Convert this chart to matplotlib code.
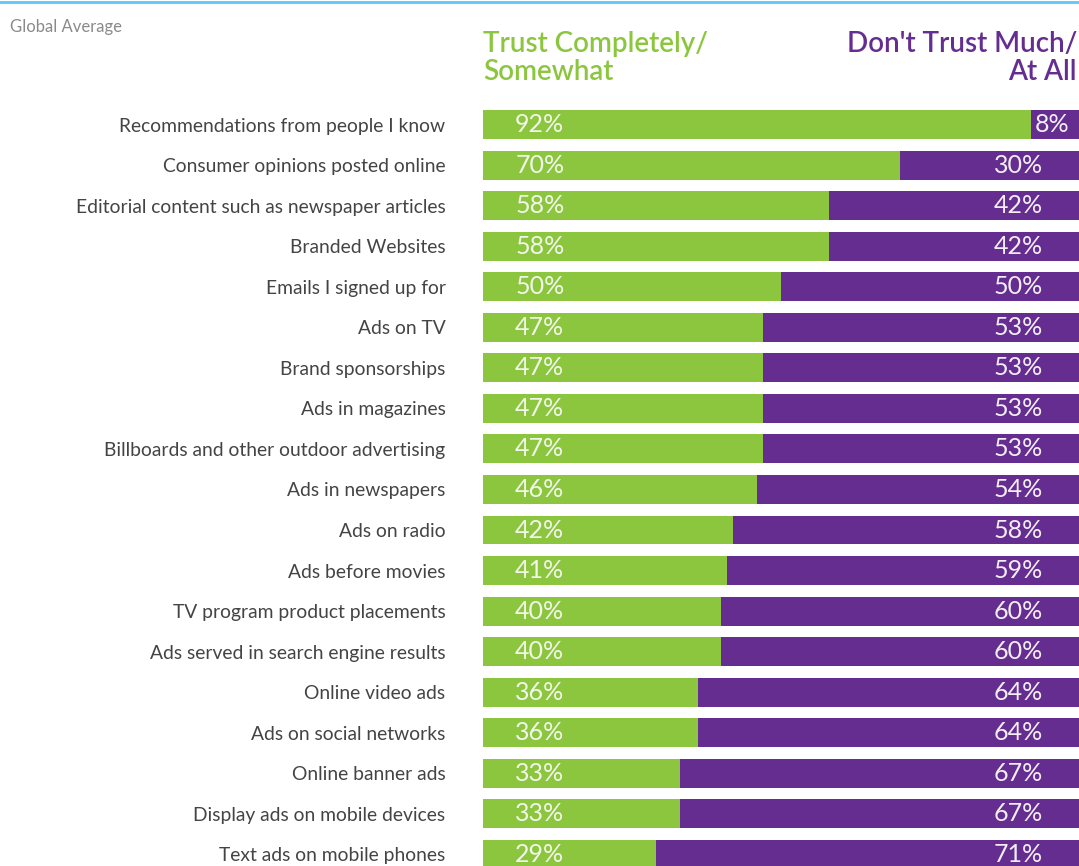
import numpy as np
import matplotlib.pyplot as plt
from matplotlib.lines import Line2D

plt.rcParams['font.family'] = ['Lato', 'DejaVu Sans']

categories = [
    "Recommendations from people I know",
    "Consumer opinions posted online",
    "Editorial content such as newspaper articles",
    "Branded Websites",
    "Emails I signed up for",
    "Ads on TV",
    "Brand sponsorships",
    "Ads in magazines",
    "Billboards and other outdoor advertising",
    "Ads in newspapers",
    "Ads on radio",
    "Ads before movies",
    "TV program product placements",
    "Ads served in search engine results",
    "Online video ads",
    "Ads on social networks",
    "Online banner ads",
    "Display ads on mobile devices",
    "Text ads on mobile phones",
]
trust = [92, 70, 58, 58, 50, 47, 47, 47, 47, 46, 42, 41, 40, 40, 36, 36, 33, 33, 29]
distrust = [8, 30, 42, 42, 50, 53, 53, 53, 53, 54, 58, 59, 60, 60, 64, 64, 67, 67, 71]

GREEN = '#8cc63f'
PURPLE = '#662d91'

W, H = 1079, 866
fig = plt.figure(figsize=(W / 100, H / 100), dpi=100)

# axes spans x 483..1079 px, y 100..866 px
ax = fig.add_axes([483 / W, 0, 1 - 483 / W, 766 / H])
y = np.arange(len(categories))
ax.barh(y, trust, height=0.715, color=GREEN, edgecolor='none')
ax.barh(y, distrust, left=trust, height=0.715, color=PURPLE, edgecolor='none')
ax.set_xlim(0, 100)
ax.set_ylim((866 - 124.5) / 40.55, (100 - 124.5) / 40.55)

ax.set_yticks(y)
ax.set_yticklabels(categories, fontsize=13.9, color='#444444')
ax.tick_params(axis='y', length=0, pad=27)
ax.set_xticks([])
for s in ax.spines.values():
    s.set_visible(False)

for i in range(len(categories)):
    ax.text(5.4, i, f"{trust[i]}%", ha='left', va='center',
            color='#f2f7ea', fontsize=18)
    if distrust[i] < 12:
        ax.text(trust[i] + 0.6, i, f"{distrust[i]}%", ha='left', va='center',
                color='#f2eef6', fontsize=18)
    else:
        ax.text(94, i, f"{distrust[i]}%", ha='right', va='center',
                color='#f2eef6', fontsize=18)

# headers
fig.text(483 / W, 1 - 58 / H, "Trust Completely/\nSomewhat", ha='left', va='center',
         color=GREEN, fontsize=20, linespacing=1.12, fontweight='semibold')
fig.text(1077 / W, 1 - 58 / H, "Don't Trust Much/\nAt All", ha='right', va='center',
         color=PURPLE, fontsize=20, linespacing=1.12, fontweight='semibold')
fig.text(10 / W, 1 - 27 / H, "Global Average", ha='left', va='center',
         color='#8a8a8a', fontsize=12)

# thin cyan rule at the top
fig.add_artist(Line2D([0, 1], [1 - 2 / H, 1 - 2 / H], transform=fig.transFigure,
                      color='#5cc8f2', linewidth=2))

fig.savefig('out.png', dpi=100)
